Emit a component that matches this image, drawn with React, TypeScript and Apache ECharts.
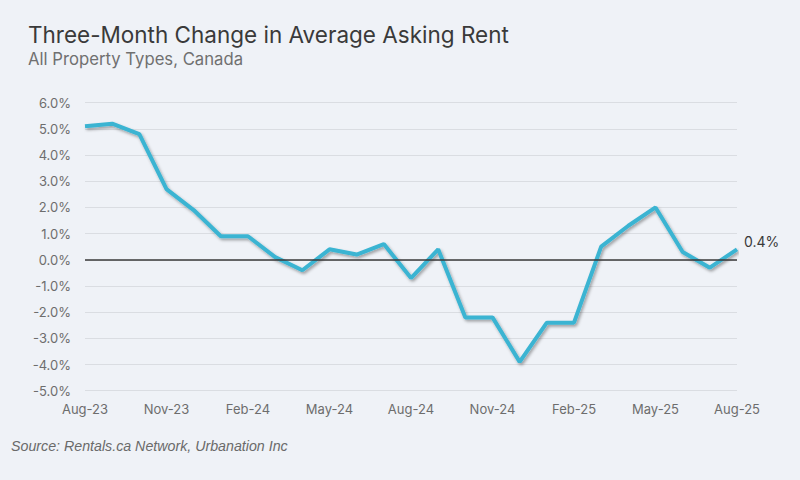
import React, { useEffect, useRef } from "react";
import * as echarts from "echarts";

// Monthly periods, Aug 2023 – Aug 2025
const months: string[] = [
  "Aug-23", "Sep-23", "Oct-23", "Nov-23", "Dec-23", "Jan-24", "Feb-24",
  "Mar-24", "Apr-24", "May-24", "Jun-24", "Jul-24", "Aug-24", "Sep-24",
  "Oct-24", "Nov-24", "Dec-24", "Jan-25", "Feb-25", "Mar-25", "Apr-25",
  "May-25", "Jun-25", "Jul-25", "Aug-25",
];

// Three-month % change in average asking rent
const rentChange: number[] = [
  5.1, 5.2, 4.8, 2.7, 1.9, 0.9, 0.9,
  0.1, -0.4, 0.4, 0.2, 0.6, -0.7, 0.4,
  -2.2, -2.2, -3.9, -2.4, -2.4, 0.5, 1.3,
  2.0, 0.3, -0.3, 0.4,
];

const yMin = -5;
const yMax = 6;
const yStep = 1;

const titleText = "Three-Month Change in Average Asking Rent";
const subtitleText = "All Property Types, Canada";
const sourceText = "Source: Rentals.ca Network, Urbanation Inc";

const BG = "#eff2f7";
const LINE = "#3bb4d2";
const AXIS_TEXT = "#6d6d6d";
const UI_FONT = "Inter, 'Noto Sans', sans-serif";
const SOURCE_FONT = "'Liberation Sans', Arial, sans-serif";
const SOURCE_SIZE = 15;
const SOURCE_WIDTH = 277;

function measure(text: string, font: string): number {
  const ctx = document.createElement("canvas").getContext("2d");
  if (!ctx) return SOURCE_WIDTH;
  ctx.font = font;
  return ctx.measureText(text).width || SOURCE_WIDTH;
}

export default function App() {
  const ref = useRef<HTMLDivElement>(null);

  useEffect(() => {
    document.body.style.margin = "0";
    if (!ref.current) return;
    const chart = echarts.init(ref.current, undefined, { renderer: "svg" });

    // slightly condensed italic credit line
    const srcWidth = measure(sourceText, `italic ${SOURCE_SIZE}px ${SOURCE_FONT}`);
    const srcScale = Math.min(1, SOURCE_WIDTH / srcWidth);

    chart.setOption({
      animation: false,
      backgroundColor: BG,
      textStyle: { fontFamily: UI_FONT },
      graphic: [
        {
          type: "text",
          x: 28,
          y: 34,
          style: {
            text: titleText,
            fontFamily: UI_FONT,
            fontSize: 22.5,
            fill: "#3a3a3a",
            textVerticalAlign: "middle",
          },
        },
        {
          type: "text",
          x: 28,
          y: 58.5,
          style: {
            text: subtitleText,
            fontFamily: UI_FONT,
            fontSize: 16.7,
            fill: "#707070",
            textVerticalAlign: "middle",
          },
        },
        {
          type: "text",
          x: 11,
          y: 446,
          scaleX: srcScale,
          style: {
            text: sourceText,
            fontFamily: SOURCE_FONT,
            fontStyle: "italic",
            fontSize: SOURCE_SIZE,
            fill: "#6a6a6a",
            textVerticalAlign: "middle",
          },
        },
      ],
      grid: { left: 85, right: 63, top: 102.7, bottom: 89.3, containLabel: false },
      xAxis: {
        type: "category",
        data: months,
        boundaryGap: false,
        axisLine: { show: false },
        axisTick: { show: false },
        axisLabel: {
          interval: 2,
          margin: 12,
          fontSize: 13,
          color: AXIS_TEXT,
          fontFamily: UI_FONT,
        },
        splitLine: { show: false },
      },
      yAxis: {
        type: "value",
        min: yMin,
        max: yMax,
        interval: yStep,
        axisLine: { show: false },
        axisTick: { show: false },
        axisLabel: {
          margin: 14,
          fontSize: 13,
          color: AXIS_TEXT,
          fontFamily: UI_FONT,
          formatter: (v: number) => v.toFixed(1) + "%",
        },
        splitLine: { lineStyle: { color: "#dadde2", width: 1 } },
      },
      series: [
        {
          type: "line",
          data: rentChange,
          showSymbol: false,
          symbol: "none",
          lineStyle: {
            color: LINE,
            width: 4,
            shadowColor: "rgba(0,0,0,0.35)",
            shadowBlur: 3,
            shadowOffsetX: 1.5,
            shadowOffsetY: 2,
          },
          endLabel: {
            show: true,
            distance: 7,
            offset: [0, -8],
            formatter: (p: any) => Number(p.value).toFixed(1) + "%",
            fontSize: 14,
            color: "#3a3a3a",
            fontFamily: UI_FONT,
          },
          markLine: {
            silent: true,
            symbol: "none",
            label: { show: false },
            lineStyle: { color: "#3a3a3a", width: 1.5, type: "solid" },
            data: [{ yAxis: 0 }],
          },
          z: 3,
        },
      ],
    });

    return () => chart.dispose();
  }, []);

  return <div ref={ref} style={{ width: 800, height: 480 }} />;
}
